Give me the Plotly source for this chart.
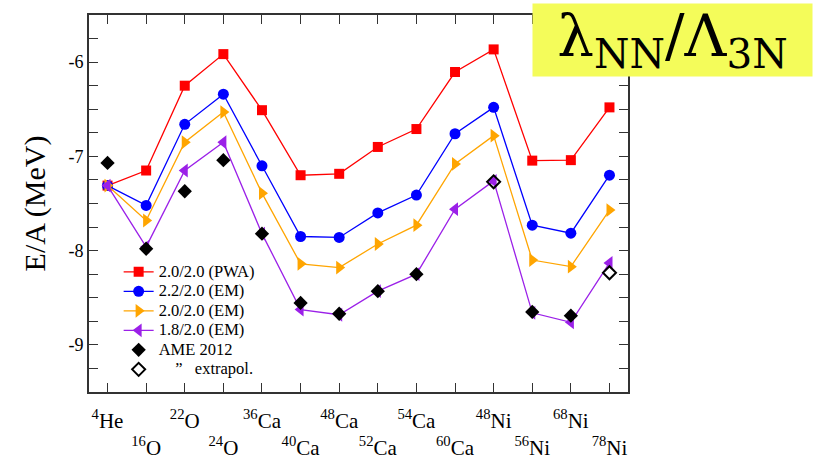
import plotly.graph_objects as go

# ---------------- data ----------------
nuclei = ["<sup>4</sup>He", "<sup>16</sup>O", "<sup>22</sup>O", "<sup>24</sup>O",
          "<sup>36</sup>Ca", "<sup>40</sup>Ca", "<sup>48</sup>Ca", "<sup>52</sup>Ca",
          "<sup>54</sup>Ca", "<sup>60</sup>Ca", "<sup>48</sup>Ni", "<sup>56</sup>Ni",
          "<sup>68</sup>Ni", "<sup>78</sup>Ni"]
x_idx = list(range(len(nuclei)))

pwa_20_20 = [-7.31, -7.15, -6.25, -5.915, -6.51, -7.20, -7.185, -6.90, -6.71, -6.105, -5.865, -7.045, -7.04, -6.48]
em_22_20 = [-7.31, -7.52, -6.66, -6.34, -7.10, -7.85, -7.86, -7.60, -7.41, -6.76, -6.48, -7.73, -7.815, -7.20]
em_20_20 = [-7.31, -7.68, -6.85, -6.53, -7.39, -8.14, -8.18, -7.93, -7.73, -7.08, -6.78, -8.10, -8.17, -7.57]
em_18_20 = [-7.31, -7.96, -7.15, -6.85, -7.82, -8.625, -8.68, -8.43, -8.25, -7.56, -7.26, -8.66, -8.76, -8.13]
ame_2012 = [-7.07, -7.98, -7.37, -7.04, -7.82, -8.555, -8.67, -8.43, -8.25, None, None, -8.65, -8.69, None]
ame_extrap = [None, None, None, None, None, None, None, None, None, None, -7.27, None, None, -8.235]

series_names = ["2.0/2.0 (PWA)", "2.2/2.0 (EM)", "2.0/2.0 (EM)", "1.8/2.0 (EM)"]
ame_names = ["AME 2012", "\u00a0\u00a0\u00a0\u00a0\u201d\u00a0\u00a0\u00a0extrapol."]

y_tickvals = [-9.5 + 0.25 * i for i in range(17)]
y_ticktext = [("%d" % v) if float(v).is_integer() else "" for v in y_tickvals]

title_text = "λ<sub>NN</sub>/Λ<sub>3N</sub>"

# ---------------- styles ----------------
SERIF = "Liberation Serif, Times New Roman, serif"
styles = [
    dict(color="#ff0000", symbol="square", size=10),
    dict(color="#0000ff", symbol="circle", size=11),
    dict(color="#ffa500", symbol="triangle-right", size=12),
    dict(color="#9b20e8", symbol="triangle-left", size=12),
]


def legend_label(s):
    return '<span style="font-size:16.5px">' + s + '</span>'


fig = go.Figure()
for name, vals, st in zip(series_names, [pwa_20_20, em_22_20, em_20_20, em_18_20], styles):
    fig.add_trace(go.Scatter(
        x=x_idx, y=vals, name=legend_label(name), mode="lines+markers",
        line=dict(color=st["color"], width=1.3),
        marker=dict(color=st["color"], symbol=st["symbol"], size=st["size"]),
    ))

fig.add_trace(go.Scatter(
    x=x_idx, y=ame_2012, name=legend_label(ame_names[0]), mode="markers",
    marker=dict(color="black", symbol="diamond", size=11),
))
fig.add_trace(go.Scatter(
    x=x_idx, y=ame_extrap, name=legend_label(ame_names[1]), mode="markers",
    marker=dict(color="black", symbol="diamond-open", size=10, line=dict(width=2, color="black")),
))

axis_common = dict(
    showline=True, linecolor="#333333", linewidth=1.6, mirror="allticks",
    ticks="inside", ticklen=9, tickwidth=1.3, tickcolor="#333333",
    showgrid=False, zeroline=False, automargin=False,
)

fig.update_xaxes(
    range=[-0.48, 13.48], tickmode="array", tickvals=x_idx,
    ticktext=[t if i % 2 == 0 else "<br>" + t for i, t in enumerate(nuclei)],
    tickfont=dict(family=SERIF, size=21, color="black"),
    tickangle=0,
    ticklabelstandoff=9,
    **axis_common,
)
fig.update_yaxes(
    range=[-9.5, -5.5], tickmode="array", tickvals=y_tickvals, ticktext=y_ticktext,
    tickfont=dict(family=SERIF, size=18, color="black"),
    title=dict(text="E/A (MeV)", font=dict(family=SERIF, size=30, color="black"), standoff=14),
    **axis_common,
)

fig.add_annotation(
    xref="paper", yref="paper", x=1.0826, y=0.9336,
    xanchor="center", yanchor="middle",
    text=title_text, showarrow=False,
    font=dict(family="DejaVu Serif, serif", size=58, color="black"),
    bgcolor="#f4fc5a", width=279, height=72, borderpad=0,
)

fig.update_layout(
    width=825, height=461,
    margin=dict(l=89, r=197, t=15, b=69),
    paper_bgcolor="white", plot_bgcolor="white",
    showlegend=True,
    legend=dict(
        x=0.055, y=0.358, xanchor="left", yanchor="top",
        bgcolor="rgba(0,0,0,0)", borderwidth=0,
        font=dict(family=SERIF, size=12.7, color="black"),
        tracegroupgap=0, itemwidth=30,
    ),
)

fig.write_html("out.html")
